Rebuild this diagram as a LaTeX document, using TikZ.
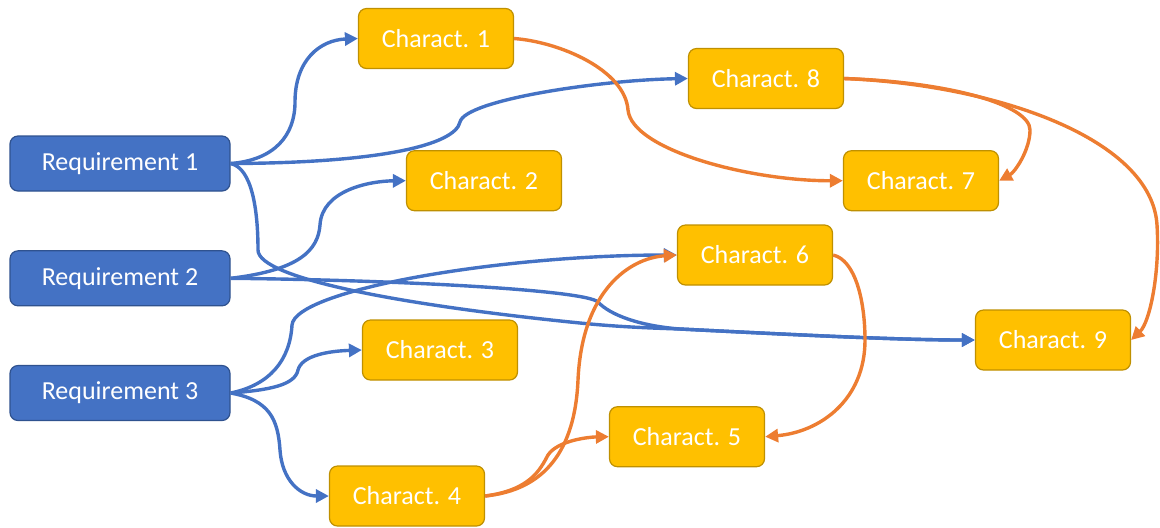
\documentclass[tikz,border=0pt]{standalone}
\usepackage{fontspec}
\setmainfont{Carlito}
\usetikzlibrary{arrows.meta}
\definecolor{reqfill}{HTML}{4472C4}
\definecolor{reqdraw}{HTML}{2F528F}
\definecolor{chfill}{HTML}{FFC000}
\definecolor{chdraw}{HTML}{BF9000}
\definecolor{bluel}{HTML}{4472C4}
\definecolor{orangel}{HTML}{ED7D31}
\tikzset{
  reqbox/.style={draw=reqdraw, fill=reqfill, line width=0.6pt, rounded corners=4pt,
    minimum width=110pt, minimum height=27.5pt, inner sep=0pt, text=white,
    font=\fontsize{13}{15}\selectfont},
  chbox/.style={draw=chdraw, fill=chfill, line width=0.6pt, rounded corners=4pt,
    minimum width=77.5pt, minimum height=30pt, inner sep=0pt, text=white,
    font=\fontsize{13}{15}\selectfont},
  bluearrow/.style={draw=bluel, line width=1.7pt, -{Triangle[length=6.5pt,width=6.5pt]}},
  orangearrow/.style={draw=orangel, line width=1.7pt, -{Triangle[length=6.5pt,width=6.5pt]}}
}
\begin{document}
\begin{tikzpicture}[x=0.5pt,y=-0.5pt]
\useasboundingbox (0,0) rectangle (1160,527);
\node[reqbox] (r1) at (120,163.5) {Requirement 1};
\node[reqbox] (r2) at (120,278.3) {Requirement 2};
\node[reqbox] (r3) at (120,393) {Requirement 3};
\node[chbox] (c1) at (436,38.5) {Charact. 1};
\node[chbox] (c8) at (766,78.5) {Charact. 8};
\node[chbox] (c2) at (484,180.7) {Charact. 2};
\node[chbox] (c7) at (921,180.7) {Charact. 7};
\node[chbox] (c6) at (755,255) {Charact. 6};
\node[chbox] (c9) at (1053,340) {Charact. 9};
\node[chbox] (c3) at (440,350) {Charact. 3};
\node[chbox] (c5) at (687,436.7) {Charact. 5};
\node[chbox] (c4) at (407,496) {Charact. 4};
% blue connectors
\draw[bluearrow] (r1.east) .. controls (275,160) and (295,135) .. (295,102)
  .. controls (295,60) and (320,40) .. (c1.west);
\draw[bluearrow] (r1.east) .. controls (380,163) and (455,145) .. (460,122)
  .. controls (465,100) and (600,80) .. (c8.west);
\draw[bluearrow] (r1.east) .. controls (252,168) and (258,210) .. (258,250)
  .. controls (258,278) and (400,305) .. (580,323)
  .. controls (620,327) and (650,328) .. (680,329)
  .. controls (800,335) and (900,340) .. (c9.west);
\draw[bluearrow] (r2.east) .. controls (400,280) and (585,290) .. (598,302)
  .. controls (610,315) and (640,326) .. (680,329)
  .. controls (800,335) and (900,340) .. (c9.west);
\draw[bluearrow] (r2.east) .. controls (300,270) and (318,250) .. (320,225)
  .. controls (322,190) and (370,181) .. (c2.west);
\draw[bluearrow] (r3.east) .. controls (270,385) and (290,360) .. (292,325)
  .. controls (295,290) and (500,255) .. (c6.west);
\draw[bluearrow] (r3.east) .. controls (270,390) and (295,385) .. (298,370)
  .. controls (302,355) and (330,351) .. (c3.west);
\draw[bluearrow] (r3.east) .. controls (270,400) and (278,420) .. (280,450)
  .. controls (282,480) and (300,496) .. (c4.west);
% orange connectors
\draw[orangearrow] (c1.east) .. controls (560,42) and (625,70) .. (628,110)
  .. controls (632,150) and (750,181) .. (c7.west);
\draw[orangearrow] (c8.east) .. controls (950,82) and (1030,105) .. (1030,130)
  .. controls (1030,150) and (1015,172) .. (c7.east);
\draw[orangearrow] (c8.east) .. controls (1000,85) and (1152,140) .. (1157,225)
  .. controls (1160,272) and (1150,322) .. (c9.east);
\draw[orangearrow] (c4.east) .. controls (545,490) and (575,450) .. (578,380)
  .. controls (582,290) and (630,258) .. (c6.west);
\draw[orangearrow] (c4.east) .. controls (530,490) and (540,470) .. (548,455)
  .. controls (558,440) and (590,437) .. (c5.west);
\draw[orangearrow] (c6.east) .. controls (855,260) and (865,300) .. (865,340)
  .. controls (865,400) and (820,432) .. (c5.east);
\end{tikzpicture}
\end{document}
